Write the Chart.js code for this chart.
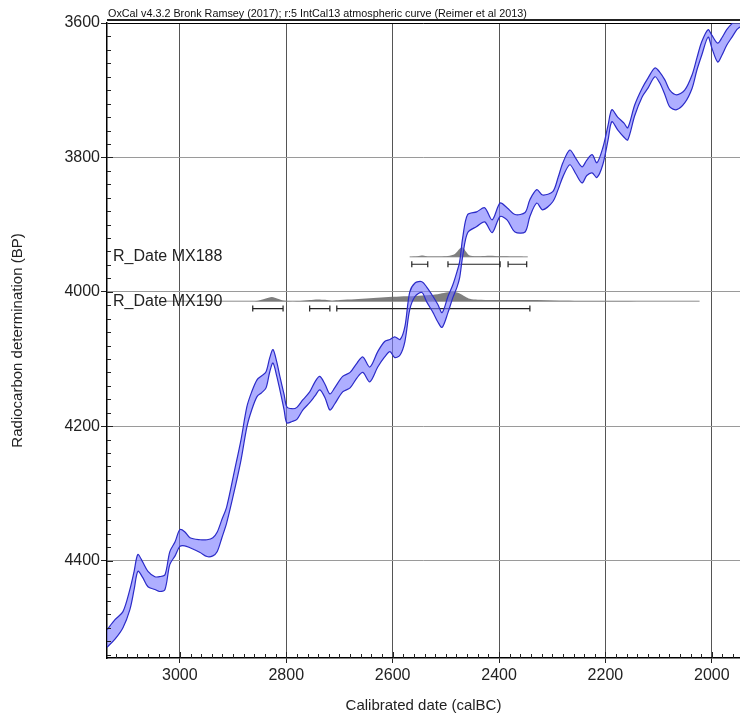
<!DOCTYPE html>
<html>
<head>
<meta charset="utf-8">
<script src="https://cdn.jsdelivr.net/npm/chart.js@4.4.1/dist/chart.umd.min.js"></script>
<style>
  html, body { margin: 0; padding: 0; background: #fff; }
  #chart { display: block; }
</style>
</head>
<body>
<canvas id="chart" width="740" height="717"></canvas>
<script>
// IntCal13 band: calendar years BC, band top / bottom in BP
const calBC = [
    3137, 3122, 3107, 3094, 3086, 3079, 3070, 3060, 3047, 3038,
    3028, 3019, 3009, 3000, 2991, 2981, 2962, 2949, 2938, 2930,
    2921, 2912, 2897, 2885, 2874, 2865, 2855, 2846, 2838, 2831,
    2825, 2818, 2812, 2804, 2799, 2789, 2780, 2769, 2756, 2746,
    2737, 2727, 2718, 2709, 2694, 2680, 2667, 2656, 2643, 2628,
    2615, 2605, 2596, 2586, 2577, 2568, 2558, 2545, 2536, 2524,
    2515, 2507, 2496, 2487, 2479, 2474, 2468, 2459, 2442, 2427,
    2413, 2398, 2385, 2370, 2351, 2342, 2329, 2318, 2299, 2289,
    2280, 2267, 2256, 2244, 2235, 2225, 2216, 2205, 2195, 2188,
    2177, 2165, 2158, 2145, 2131, 2120, 2107, 2098, 2088, 2079,
    2066, 2051, 2037, 2028, 2019, 2007, 2000, 1989, 1981, 1972,
    1962, 1953, 1947,
];
const curveTop = [
    4503, 4488, 4476, 4443, 4416, 4391, 4402, 4416, 4424, 4424,
    4421, 4387, 4372, 4354, 4357, 4366, 4369, 4369, 4366, 4358,
    4339, 4320, 4265, 4220, 4171, 4149, 4131, 4125, 4119, 4098,
    4086, 4104, 4126, 4153, 4171, 4174, 4172, 4161, 4149, 4134,
    4126, 4138, 4152, 4143, 4126, 4120, 4106, 4097, 4112, 4089,
    4074, 4071, 4067, 4071, 4052, 4001, 3987, 3985, 3993, 4007,
    4019, 4031, 4007, 3990, 3970, 3955, 3918, 3885, 3881, 3875,
    3893, 3868, 3875, 3885, 3882, 3863, 3848, 3856, 3851, 3830,
    3808, 3789, 3801, 3814, 3804, 3796, 3808, 3786, 3752, 3729,
    3740, 3749, 3756, 3722, 3697, 3682, 3667, 3673, 3685, 3700,
    3707, 3700, 3677, 3652, 3628, 3610, 3618, 3630, 3622, 3610,
    3601, 3596, 3591,
];
const curveBottom = [
    4529, 4517, 4500, 4473, 4443, 4416, 4425, 4439, 4443, 4446,
    4443, 4406, 4393, 4379, 4378, 4381, 4388, 4394, 4393, 4387,
    4366, 4344, 4294, 4250, 4201, 4176, 4156, 4150, 4143, 4119,
    4106, 4125, 4146, 4176, 4195, 4193, 4190, 4176, 4165, 4155,
    4146, 4158, 4176, 4167, 4149, 4143, 4128, 4120, 4134, 4112,
    4097, 4089, 4098, 4094, 4074, 4027, 4007, 4001, 4015, 4031,
    4045, 4053, 4031, 4009, 3993, 3979, 3945, 3912, 3903, 3896,
    3912, 3888, 3893, 3911, 3911, 3888, 3868, 3878, 3866, 3848,
    3829, 3811, 3824, 3838, 3827, 3823, 3830, 3811, 3774, 3747,
    3759, 3770, 3774, 3738, 3710, 3697, 3680, 3689, 3707, 3725,
    3729, 3719, 3697, 3670, 3648, 3621, 3637, 3658, 3648, 3633,
    3621, 3610, 3606,
];

// axis ticks
const xTicks = [ 3000, 2800, 2600, 2400, 2200, 2000 ];
const yTicks = [ 3600, 3800, 4000, 4200, 4400 ];

// R_Date samples
const sampleNames = [ 'R_Date MX188', 'R_Date MX190' ];
const sampleBP    = [ 3948, 4014 ];
const sampleSpan  = [ [ 2568, 2346 ], [ 3028, 2023 ] ];

// relative probability of each sample
const mx188Cal  = [ 2568, 2553, 2543, 2534, 2511, 2496, 2483, 2474, 2468, 2462, 2455, 2436, 2417, 2398, 2380, 2361, 2346 ];
const mx188Prob = [ 0, 0.07, 0.14, 0.04, 0.03, 0.08, 0.3, 0.85, 1, 0.55, 0.15, 0.07, 0.11, 0.05, 0.04, 0.03, 0 ];
const mx190Cal  = [ 3028, 2868, 2853, 2840, 2827, 2816, 2803, 2774, 2756, 2741, 2727, 2714, 2699, 2671, 2643, 2615, 2586,
    2558, 2530, 2511, 2496, 2486, 2475, 2464, 2455, 2440, 2398, 2342, 2286, 2211, 2100, 2023 ];
const mx190Prob = [ 0, 0, 0.06, 0.25, 0.44, 0.25, 0.04, 0.02, 0.12, 0.19, 0.15, 0.06, 0.12, 0.2, 0.3, 0.42, 0.5,
    0.55, 0.65, 0.8, 0.95, 1, 0.85, 0.5, 0.25, 0.15, 0.13, 0.12, 0.06, 0.02, 0, 0 ];

// 95.4% ranges (cal BC)
const mx188Ranges = [ [ 2564, 2534 ], [ 2496, 2398 ], [ 2383, 2348 ] ];
const mx190Ranges = [ [ 2863, 2806 ], [ 2756, 2718 ], [ 2705, 2342 ] ];

const TITLE_TOP = 'OxCal v4.3.2 Bronk Ramsey (2017); r:5 IntCal13 atmospheric curve (Reimer et al 2013)';
const FONT = "'Liberation Sans', Arial, sans-serif";
const DIST_HEIGHT = 14;   // BP units used for a probability of 1
const RANGE_OFFSET = 11;  // range bars sit below the baseline

function pts( xs, ys ) {
    return xs.map( ( x, i ) => ( { x, y: ys[ i ] } ) );
}

function distPts( xs, probs, base ) {
    return xs.map( ( x, i ) => ( { x, y: base - probs[ i ] * DIST_HEIGHT } ) );
}

function rangePts( ranges, y ) {
    const out = [];
    ranges.forEach( ( [ a, b ] ) => {
        out.push( { x: a, y }, { x: b, y }, { x: ( a + b ) / 2 - 0.5, y: null } );
    } );
    return out;
}

const isMajor = ( v ) => Math.abs( v % 200 ) < 0.001;

const overlay = {
    id: 'overlay',
    afterDraw( chart ) {
        const { ctx, chartArea: a, scales: { x, y } } = chart;
        ctx.save();

        // minor ticks inside the frame
        ctx.strokeStyle = '#222';
        ctx.lineWidth = 1;
        ctx.beginPath();
        for ( let v = 1960; v <= 3120; v += 20 ) {
            const px = Math.round( x.getPixelForValue( v ) ) + 0.5;
            ctx.moveTo( px, a.bottom );
            ctx.lineTo( px, a.bottom - ( isMajor( v ) ? 6 : 4 ) );
        }
        for ( let v = 3620; v <= 4540; v += 20 ) {
            const py = Math.round( y.getPixelForValue( v ) ) + 0.5;
            ctx.moveTo( a.left, py );
            ctx.lineTo( a.left + ( isMajor( v ) ? 6 : 4 ), py );
        }
        ctx.stroke();

        // top frame
        ctx.lineWidth = 2;
        ctx.beginPath();
        ctx.moveTo( a.left, a.top - 3 );
        ctx.lineTo( a.right, a.top - 3 );
        ctx.stroke();

        // header
        ctx.fillStyle = '#111';
        ctx.font = '10.8px ' + FONT;
        ctx.textBaseline = 'bottom';
        ctx.textAlign = 'left';
        ctx.fillText( TITLE_TOP, a.left + 1, a.top - 4 );

        // sample labels
        ctx.font = '16px ' + FONT;
        ctx.textBaseline = 'middle';
        ctx.fillStyle = '#222';
        sampleNames.forEach( ( name, i ) => {
            ctx.fillText( name, a.left + 6, y.getPixelForValue( sampleBP[ i ] ) );
        } );
        ctx.restore();
    },
};

const distStyle = {
    borderWidth: 0,
    pointRadius: 0,
    tension: 0.3,
    backgroundColor: 'rgba(105,105,105,0.85)',
    borderColor: 'rgba(0,0,0,0)',
};

const rangeStyle = {
    borderColor: '#222',
    borderWidth: 1.2,
    pointStyle: 'line',
    rotation: 90,
    pointRadius: 3,
    pointBorderWidth: 1.2,
    pointBorderColor: '#222',
    spanGaps: false,
    fill: false,
};

new Chart( document.getElementById( 'chart' ), {
    type: 'line',
    data: {
        datasets: [
            {
                label: 'IntCal13 top',
                data: pts( calBC, curveTop ),
                borderColor: '#2b2bc8',
                borderWidth: 1.2,
                pointRadius: 0,
                tension: 0.3,
                fill: false,
            },
            {
                label: 'IntCal13 bottom',
                data: pts( calBC, curveBottom ),
                borderColor: '#2b2bc8',
                borderWidth: 1.2,
                pointRadius: 0,
                tension: 0.3,
                fill: '-1',
                backgroundColor: 'rgba(120,120,255,0.6)',
            },
            {
                label: 'MX188 prob',
                data: distPts( mx188Cal, mx188Prob, sampleBP[ 0 ] ),
                fill: { value: sampleBP[ 0 ] },
                ...distStyle,
            },
            {
                label: 'MX190 prob',
                data: distPts( mx190Cal, mx190Prob, sampleBP[ 1 ] ),
                fill: { value: sampleBP[ 1 ] },
                ...distStyle,
            },
            {
                label: 'MX188 base',
                data: sampleSpan[ 0 ].map( ( v ) => ( { x: v, y: sampleBP[ 0 ] } ) ),
                borderColor: '#8c8c8c', borderWidth: 1, pointRadius: 0, fill: false,
            },
            {
                label: 'MX190 base',
                data: sampleSpan[ 1 ].map( ( v ) => ( { x: v, y: sampleBP[ 1 ] } ) ),
                borderColor: '#8c8c8c', borderWidth: 1, pointRadius: 0, fill: false,
            },
            { label: 'MX188 range', data: rangePts( mx188Ranges, sampleBP[ 0 ] + RANGE_OFFSET ), ...rangeStyle },
            { label: 'MX190 range', data: rangePts( mx190Ranges, sampleBP[ 1 ] + RANGE_OFFSET ), ...rangeStyle },
        ],
    },
    options: {
        responsive: false,
        animation: false,
        devicePixelRatio: 1,
        layout: { autoPadding: false, padding: { top: 23, right: 0, left: 0, bottom: 0 } },
        plugins: {
            legend: { display: false },
            tooltip: { enabled: false },
        },
        scales: {
            x: {
                type: 'linear',
                reverse: true,
                min: 1947,
                max: 3137,
                afterBuildTicks: ( s ) => { s.ticks = xTicks.map( ( v ) => ( { value: v } ) ); },
                afterFit: ( s ) => {
                    s.height = 59;
                    s.paddingLeft = 0;
                    s.paddingRight = 0;
                },
                border: { color: '#000', width: 1.5 },
                grid: {
                    color: '#555',
                    tickColor: '#222',
                    tickLength: 5,
                    lineWidth: 1,
                },
                ticks: {
                    autoSkip: false,
                    maxRotation: 0,
                    padding: 3,
                    color: '#222',
                    font: { size: 16, family: FONT },
                    callback: ( v ) => String( v ),
                },
                title: {
                    display: true,
                    text: 'Calibrated date (calBC)',
                    color: '#222',
                    font: { size: 15, family: FONT },
                    padding: { top: 2, bottom: 2 },
                },
            },
            y: {
                type: 'linear',
                reverse: true,
                min: 3600,
                max: 4545,
                afterBuildTicks: ( s ) => { s.ticks = yTicks.map( ( v ) => ( { value: v } ) ); },
                afterFit: ( s ) => {
                    s.width = 107;
                    s.paddingTop = 0;
                    s.paddingBottom = 0;
                },
                border: { color: '#000', width: 1.5 },
                grid: {
                    color: ( c ) => ( c.tick && c.tick.value === 3600 ? '#000' : '#9a9a9a' ),
                    tickColor: '#222',
                    tickLength: 6,
                    lineWidth: 1,
                },
                ticks: {
                    autoSkip: false,
                    padding: 1,
                    color: '#222',
                    font: { size: 16, family: FONT },
                    callback: ( v ) => String( v ),
                },
                title: {
                    display: true,
                    text: 'Radiocarbon determination (BP)',
                    color: '#222',
                    font: { size: 15, family: FONT },
                    padding: { top: 9, bottom: 9 },
                },
            },
        },
    },
    plugins: [ overlay ],
} );
</script>
</body>
</html>
